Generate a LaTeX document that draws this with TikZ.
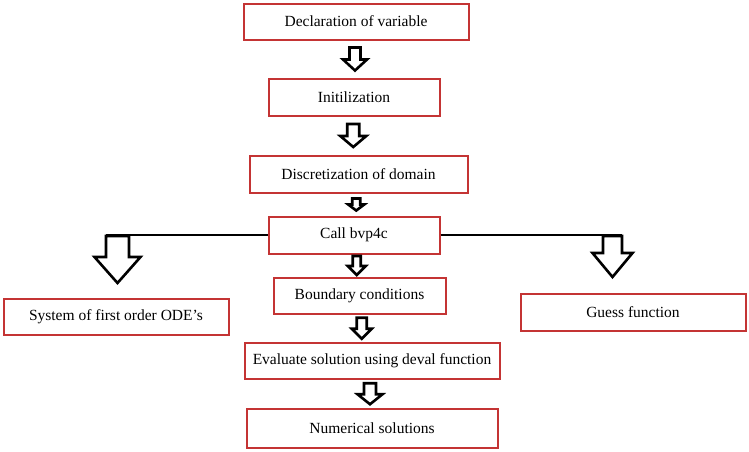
\documentclass[tikz,border=0pt]{standalone}
\usepackage{fontspec}
\setmainfont{Liberation Serif}
\usetikzlibrary{calc}
\definecolor{boxred}{RGB}{196,52,52}
\tikzset{
  stepbox/.style 2 args={draw=boxred, line width=2pt, minimum width=#1pt, minimum height=#2pt, inner sep=0pt, font=\fontsize{15.5}{18}\selectfont},
  blockline/.style={draw=black, line width=2.6pt, fill=white},
  linkline/.style={draw=black, line width=2.6pt},
  pics/downarrow/.style args={#1/#2/#3/#4}{code={
    \path[blockline] ({-#2},{-#1/2}) -- ({#2},{-#1/2}) -- ({#2},{#1/2-#4}) -- ({#3},{#1/2-#4}) -- (0,{#1/2}) -- ({-#3},{#1/2-#4}) -- ({-#2},{#1/2-#4}) -- cycle;
  }}
}
\begin{document}
\begin{tikzpicture}[x=1pt,y=-1pt]
\useasboundingbox (0,0) rectangle (749,451);
% main column
\node[stepbox={225}{36}] (decl) at (356,21.5) {Declaration of variable};
\node[stepbox={171}{37}] (init) at (354,97) {Initilization};
\node[stepbox={218}{37}] (disc) at (358.5,174) {Discretization of domain};
\node[stepbox={171}{37}] (call) at (354,235) {Call bvp4c};
\node[stepbox={172}{36}] (bc) at (359.5,295.5) {Boundary conditions};
\node[stepbox={255}{36}] (eval) at (372,361) {Evaluate solution using deval function};
\node[stepbox={251}{39}] (num) at (372,428) {Numerical solutions};
% side boxes
\node[stepbox={225}{36}] (ode) at (116,316.5) {System of first order ODE's};
\node[stepbox={225}{37}] (guess) at (633,312) {Guess function};
% arrows down the column
\pic at ($(decl.south)!0.5!(init.north)$) {downarrow=23/5.5/12/11};
\pic at ($(init.south)!0.5!(disc.north)+(-3,0)$) {downarrow=23/6/13/11};
\pic at ($(disc.south)!0.5!(call.north)$) {downarrow=12/4/8/6};
\pic at ($(call.south)!0.5!(bc.north)$) {downarrow=19/4/9/9};
\pic at ($(bc.south)!0.5!(eval.north)+(-4,0)$) {downarrow=21/5/10/10};
\pic at ($(eval.south)!0.5!(num.north)+(-2,0)$) {downarrow=21/6/12.5/10};
% branches to the sides
\coordinate (odeshaft) at (106,235);
\coordinate (guessshaft) at (622,235);
\draw[linkline] (call.west) -- (odeshaft);
\draw[linkline] (call.east) -- (guessshaft);
\pic at (117.5,259.5) {downarrow=47/11.5/23/26};
\pic at (612.5,256.5) {downarrow=41/9.5/20/24};
\end{tikzpicture}
\end{document}
